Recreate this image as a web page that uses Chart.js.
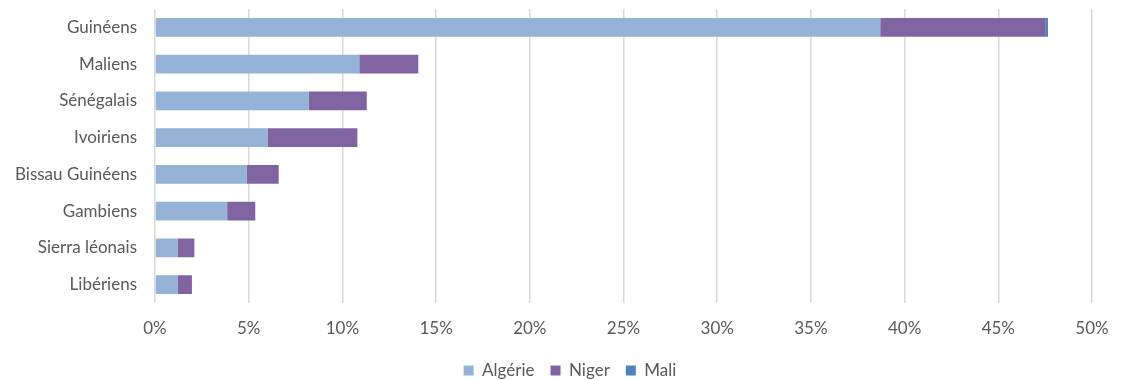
<!DOCTYPE html>
<html>
<head>
<meta charset="utf-8">
<script src="https://cdn.jsdelivr.net/npm/chart.js@4/dist/chart.umd.min.js"></script>
<style>
  html, body { margin: 0; padding: 0; background: #ffffff; }
  #wrap { width: 1132px; height: 380px; }
</style>
</head>
<body>
<div id="wrap"><canvas id="c" width="1132" height="380"></canvas></div>
<script>
// Nationalities of migrants, share by country of transit (%)
const categories = ["Guinéens", "Maliens", "Sénégalais", "Ivoiriens", "Bissau Guinéens", "Gambiens", "Sierra léonais", "Libériens"];
const algerie = [38.7, 10.9, 8.2, 6.0, 4.9, 3.85, 1.2, 1.2];
const niger   = [8.8, 3.15, 3.1, 4.8, 1.7, 1.5, 0.9, 0.77];
const mali    = [0.15, 0, 0, 0, 0, 0, 0, 0];
const xTicks  = [0, 5, 10, 15, 20, 25, 30, 35, 40, 45, 50];

const FONT = "Lato, 'Open Sans', sans-serif";
const TEXT = "#595959";

new Chart(document.getElementById("c"), {
  type: "bar",
  data: {
    labels: categories,
    datasets: [
      { label: "Algérie", data: algerie, backgroundColor: "#95b3d7" },
      { label: "Niger",   data: niger,   backgroundColor: "#8064a2" },
      { label: "Mali",    data: mali,    backgroundColor: "#4f81bd" }
    ]
  },
  options: {
    indexAxis: "y",
    responsive: false,
    animation: false,
    layout: { padding: { left: 0, right: -8, top: 9, bottom: -9 } },
    datasets: { bar: { categoryPercentage: 0.51, barPercentage: 1.0 } },
    plugins: {
      legend: {
        position: "bottom",
        labels: {
          font: { family: FONT, size: 17 },
          color: TEXT,
          boxWidth: 10,
          boxHeight: 10,
          padding: 16
        }
      },
      tooltip: { enabled: false }
    },
    scales: {
      x: {
        stacked: true,
        min: 0,
        max: 50,
        afterBuildTicks: (axis) => { axis.ticks = xTicks.map(v => ({ value: v })); },
        afterFit: (axis) => {
          axis.height = 43;
          axis.paddingLeft = 0;
          axis.paddingRight = 40;
        },
        ticks: {
          callback: (v) => v + "%",
          font: { family: FONT, size: 17 },
          color: TEXT,
          padding: 15
        },
        grid: { color: "#d9d9d9", lineWidth: 1.5, drawTicks: false },
        border: { display: false }
      },
      y: {
        stacked: true,
        afterFit: (axis) => {
          axis.width = 155;
          axis.paddingTop = 0;
          axis.paddingBottom = 0;
        },
        ticks: {
          font: { family: FONT, size: 17 },
          color: TEXT,
          padding: 18
        },
        grid: { display: false, drawTicks: false },
        border: { display: false }
      }
    }
  }
});
</script>
</body>
</html>
